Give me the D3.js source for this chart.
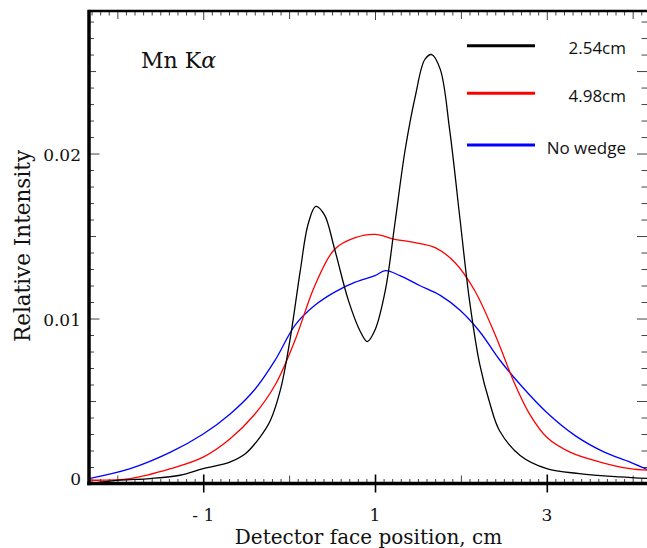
<!DOCTYPE html>
<html>
<head>
<meta charset="utf-8">
<script src="https://cdn.jsdelivr.net/npm/d3@7"></script>
<style>
  body { margin: 0; background: #fff; }
  svg { display: block; }
</style>
</head>
<body>
<div id="chart"></div>
<script>
// Detector face position (cm) and relative intensity
const posBlack = [-2.33, -1.97, -1.62, -1.27, -1.0, -0.69, -0.51, -0.34, -0.22, -0.10, 0.01, 0.13, 0.22, 0.31, 0.41, 0.53, 0.69, 0.83, 0.91, 1.0, 1.12, 1.23, 1.35, 1.47, 1.58, 1.66, 1.76, 1.87, 1.99, 2.10, 2.22, 2.34, 2.45, 2.69, 3.0, 3.38, 3.85, 4.19];
const valBlack = [0.0000, 0.0002, 0.0003, 0.0005, 0.0009, 0.0013, 0.0018, 0.0028, 0.0038, 0.0057, 0.0087, 0.0129, 0.0157, 0.0168, 0.0163, 0.0142, 0.0111, 0.0092, 0.0086, 0.0093, 0.0117, 0.0157, 0.0202, 0.0235, 0.0257, 0.0260, 0.0251, 0.0214, 0.0160, 0.0111, 0.0072, 0.0048, 0.0032, 0.0017, 0.0009, 0.0006, 0.0004, 0.0003];

const posRed = [-2.33, -1.85, -1.38, -1.0, -0.69, -0.40, -0.16, 0.07, 0.30, 0.53, 0.77, 1.0, 1.23, 1.47, 1.70, 1.93, 2.16, 2.40, 2.63, 2.80, 3.0, 3.27, 3.62, 3.97, 4.19];
const valRed = [0.0002, 0.0003, 0.0009, 0.0016, 0.0027, 0.0042, 0.0060, 0.0087, 0.0120, 0.0142, 0.0149, 0.0151, 0.0148, 0.0146, 0.0143, 0.0134, 0.0117, 0.0090, 0.0060, 0.0042, 0.0028, 0.0019, 0.0013, 0.0009, 0.0008];

const posBlue = [-2.33, -1.85, -1.38, -1.0, -0.69, -0.40, -0.16, 0.07, 0.30, 0.53, 0.77, 1.0, 1.12, 1.29, 1.52, 1.76, 1.99, 2.22, 2.45, 2.69, 3.0, 3.33, 3.67, 3.97, 4.19];
const valBlue = [0.0003, 0.0009, 0.0019, 0.0030, 0.0042, 0.0057, 0.0075, 0.0096, 0.0108, 0.0116, 0.0122, 0.0126, 0.0129, 0.0126, 0.0120, 0.0114, 0.0105, 0.0092, 0.0075, 0.0060, 0.0043, 0.0029, 0.0019, 0.0013, 0.0008];

const seriesNames = ["2.54cm", "4.98cm", "No wedge"];
const xTickLabels = [-1, 1, 3];
const yTickLabels = [0, 0.01, 0.02];
const xDomain = [-2.33, 4.19];
const yDomain = [0, 0.02864];

const colors = ["#000000", "#ff0000", "#0000ff"];

const WIDTH = 647, HEIGHT = 548;
const MARGIN = { LEFT: 89, TOP: 11, RIGHT: -2, BOTTOM: 64.5 };
const W = WIDTH - MARGIN.LEFT - MARGIN.RIGHT;
const H = HEIGHT - MARGIN.TOP - MARGIN.BOTTOM;

const svg = d3.select("#chart").append("svg")
  .attr("width", WIDTH)
  .attr("height", HEIGHT);

const g = svg.append("g")
  .attr("transform", `translate(${MARGIN.LEFT}, ${MARGIN.TOP})`);

const x = d3.scaleLinear().domain(xDomain).range([0, W]);
const y = d3.scaleLinear().domain(yDomain).range([H, 0]);

// tick sets: minor / medium / major
const xMinor = d3.range(-23, 42).map(d => d / 10).filter(d => Math.abs(d - Math.round(d)) > 1e-6);
const xMedium = [-2, 0, 2, 4];
const yMinor = d3.range(1, 29).map(d => d / 1000).filter(d => (Math.round(d * 1000) % 5) !== 0);
const yMedium = [0.005, 0.015, 0.025];
const yMajor = [0.01, 0.02];

function tickGroup(axis) {
  const t = g.append("g").call(axis);
  t.select(".domain").remove();
  t.selectAll("line").attr("stroke", "#444").attr("stroke-width", 1);
  return t;
}

const noLabel = () => "";

// bottom
tickGroup(d3.axisBottom(x).tickValues(xMinor).tickSize(-4.5).tickFormat(noLabel)).attr("transform", `translate(0, ${H})`);
tickGroup(d3.axisBottom(x).tickValues(xMedium).tickSize(-8).tickFormat(noLabel)).attr("transform", `translate(0, ${H})`);
tickGroup(d3.axisBottom(x).tickValues(xTickLabels).tickSize(-9).tickFormat(noLabel)).attr("transform", `translate(0, ${H})`)
  .selectAll("line").attr("y2", 9).attr("y1", -9).attr("stroke", "#000").attr("stroke-width", 1.6);
// top
tickGroup(d3.axisTop(x).tickValues(xMinor).tickSize(-4.5).tickFormat(noLabel));
tickGroup(d3.axisTop(x).tickValues(xMedium).tickSize(-8).tickFormat(noLabel));
tickGroup(d3.axisTop(x).tickValues(xTickLabels).tickSize(-9).tickFormat(noLabel));
// left
tickGroup(d3.axisLeft(y).tickValues(yMinor).tickSize(-5).tickFormat(noLabel));
tickGroup(d3.axisLeft(y).tickValues(yMedium).tickSize(-7).tickFormat(noLabel));
tickGroup(d3.axisLeft(y).tickValues(yMajor).tickSize(-10.5).tickFormat(noLabel));
// right
tickGroup(d3.axisRight(y).tickValues(yMinor).tickSize(-7.5).tickFormat(noLabel)).attr("transform", `translate(${W}, 0)`);
tickGroup(d3.axisRight(y).tickValues(yMedium.concat(yMajor)).tickSize(-12).tickFormat(noLabel)).attr("transform", `translate(${W}, 0)`);

// curves
g.append("clipPath").attr("id", "plotClip")
  .append("rect").attr("width", W).attr("height", H);

const line = d3.line()
  .x(d => x(d[0]))
  .y(d => y(d[1]))
  .curve(d3.curveCatmullRom.alpha(0.5));

const series = [
  d3.zip(posBlue, valBlue),
  d3.zip(posRed, valRed),
  d3.zip(posBlack, valBlack)
];
const seriesColor = [colors[2], colors[1], colors[0]];

g.append("g").attr("clip-path", "url(#plotClip)")
  .selectAll("path")
  .data(series)
  .join("path")
  .attr("d", line)
  .attr("fill", "none")
  .attr("stroke", (d, i) => seriesColor[i])
  .attr("stroke-width", 1.3);

// frame
g.append("line").attr("x1", 0).attr("x2", W).attr("y1", 0).attr("y2", 0)
  .attr("stroke", "#000").attr("stroke-width", 2.6);
g.append("line").attr("x1", -1.75).attr("x2", W).attr("y1", H).attr("y2", H)
  .attr("stroke", "#000").attr("stroke-width", 3.5);
g.append("line").attr("x1", 0).attr("x2", 0).attr("y1", -1.3).attr("y2", H + 1.75)
  .attr("stroke", "#000").attr("stroke-width", 3.5);
g.append("line").attr("x1", W).attr("x2", W).attr("y1", 0).attr("y2", H)
  .attr("stroke", "#000").attr("stroke-width", 3);

// tick labels
const serif = "'DejaVu Serif', serif";
g.selectAll(".xlab")
  .data(xTickLabels)
  .join("text")
  .attr("class", "xlab")
  .attr("x", d => x(d))
  .attr("y", H + 37.5)
  .attr("text-anchor", "middle")
  .attr("font-family", serif)
  .attr("font-size", 17)
  .attr("fill", "#111")
  .text(d => d < 0 ? "- " + Math.abs(d) : d);

g.selectAll(".ylab")
  .data(yTickLabels)
  .join("text")
  .attr("class", "ylab")
  .attr("x", -8)
  .attr("y", d => d === 0 ? y(d) + 1.5 : y(d) + 7)
  .attr("text-anchor", "end")
  .attr("font-family", serif)
  .attr("font-size", 17)
  .attr("fill", "#111")
  .text(d => d === 0 ? "0" : d.toFixed(2));

// axis titles
svg.append("text")
  .attr("transform", "translate(30, 246) rotate(-90)")
  .attr("text-anchor", "middle")
  .attr("font-family", serif)
  .attr("font-size", 21.5)
  .attr("fill", "#111")
  .text("Relative Intensity");

svg.append("text")
  .attr("x", 368.5)
  .attr("y", 544)
  .attr("text-anchor", "middle")
  .attr("font-family", serif)
  .attr("font-size", 20)
  .attr("fill", "#111")
  .text("Detector face position, cm");

// annotation
const ann = svg.append("text")
  .attr("x", 141)
  .attr("y", 68)
  .attr("font-family", serif)
  .attr("font-size", 22)
  .attr("fill", "#111");
ann.append("tspan").text("Mn K");
ann.append("tspan").attr("font-style", "italic").text("α");

// legend
const legendY = [45.7, 93.3, 145];
const legend = svg.append("g");
seriesNames.forEach((name, i) => {
  legend.append("line")
    .attr("x1", 467).attr("x2", 535)
    .attr("y1", legendY[i]).attr("y2", legendY[i])
    .attr("stroke", colors[i]).attr("stroke-width", 3);
  legend.append("text")
    .attr("x", 626)
    .attr("y", legendY[i] + 8.5)
    .attr("text-anchor", "end")
    .attr("font-family", "'Open Sans', sans-serif")
    .attr("font-size", 17)
    .attr("fill", "#111")
    .text(name);
});
</script>
</body>
</html>
